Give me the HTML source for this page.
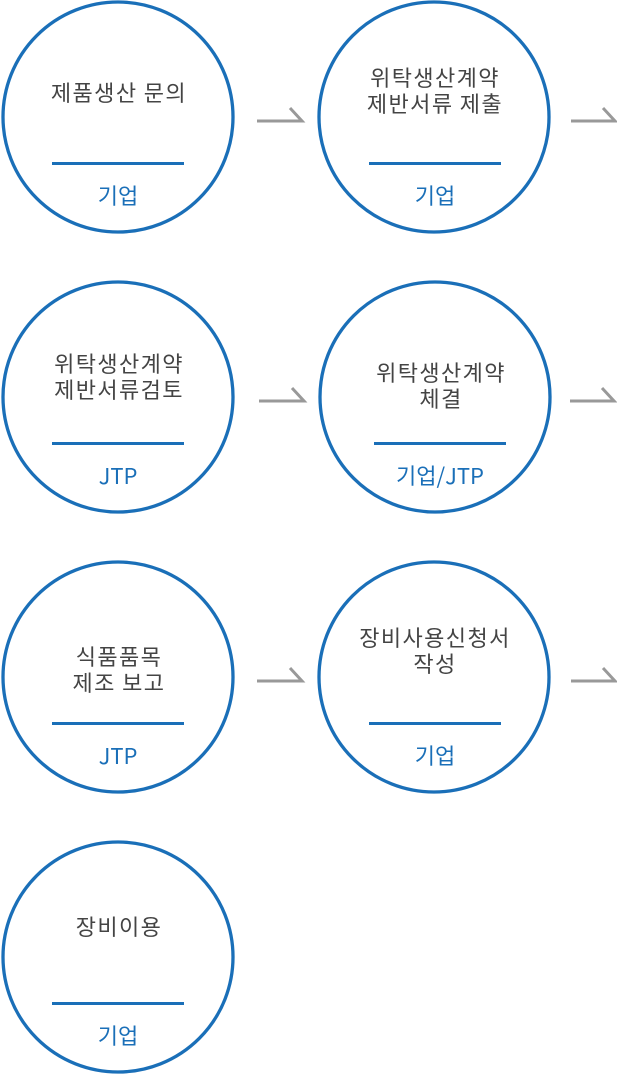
<!DOCTYPE html>
<html><head><meta charset="utf-8"><style>
html,body{margin:0;padding:0;background:#fff;}
svg text{font-family:"Noto Sans CJK KR","Liberation Sans",sans-serif;text-anchor:middle;}
.t{fill:#444;font-size:22px;letter-spacing:1.4px;}
.l{fill:#1a6fb8;font-size:22px;}
</style></head><body>
<svg width="617" height="1074" viewBox="0 0 617 1074" xmlns="http://www.w3.org/2000/svg">
<g fill="none" stroke="#1a6fb8" stroke-width="3.3">
<circle cx="118" cy="117" r="115"/><circle cx="434" cy="117" r="115"/>
<circle cx="118" cy="397" r="115"/><circle cx="435" cy="397" r="115"/>
<circle cx="118" cy="677" r="115"/><circle cx="434" cy="677" r="115"/>
<circle cx="118" cy="957" r="115"/>
</g>
<g stroke="#1a6fb8" stroke-width="3">
<line x1="52" y1="163.5" x2="184" y2="163.5"/><line x1="369" y1="163.5" x2="501" y2="163.5"/>
<line x1="52" y1="443.5" x2="184" y2="443.5"/><line x1="374" y1="443.5" x2="506" y2="443.5"/>
<line x1="52" y1="723.5" x2="184" y2="723.5"/><line x1="369" y1="723.5" x2="501" y2="723.5"/>
<line x1="52" y1="1003.5" x2="184" y2="1003.5"/>
</g>
<g fill="none" stroke="#999" stroke-width="3">
<path d="M257 121H302L290 108"/><path d="M571 121H615L603 108"/>
<path d="M259 401H304L292 388"/><path d="M570 401H614L602 388"/>
<path d="M257 681H302L290 668"/><path d="M571 681H615L603 668"/>
</g>
<text class="t" x="119" y="101">제품생산 문의</text>
<text class="t" x="435" y="86">위탁생산계약</text><text class="t" x="435" y="112">제반서류 제출</text>
<text class="t" x="119" y="372">위탁생산계약</text><text class="t" x="119" y="398">제반서류검토</text>
<text class="t" x="441" y="381">위탁생산계약</text><text class="t" x="441" y="407">체결</text>
<text class="t" x="119" y="665">식품품목</text><text class="t" x="119" y="691">제조 보고</text>
<text class="t" x="435" y="646">장비사용신청서</text><text class="t" x="435" y="672">작성</text>
<text class="t" x="119" y="935">장비이용</text>
<text class="l" x="118" y="204">기업</text><text class="l" x="435" y="204">기업</text>
<text class="l" x="118" y="484">JTP</text><text class="l" x="440" y="484">기업/JTP</text>
<text class="l" x="118" y="764">JTP</text><text class="l" x="435" y="764">기업</text>
<text class="l" x="118" y="1044">기업</text>
</svg>
</body></html>
